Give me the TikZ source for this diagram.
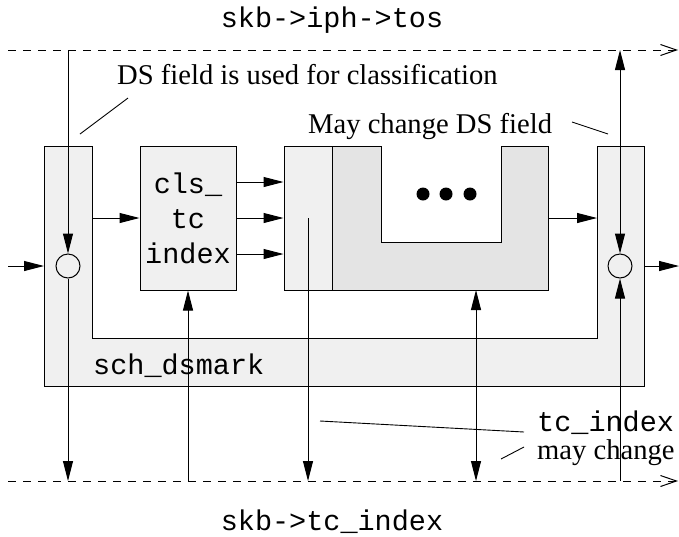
\documentclass[tikz,border=0pt]{standalone}
\usepackage{fontspec}
\setmainfont{Liberation Serif}
\setmonofont{Liberation Mono}
\usepackage{tikz}
\usetikzlibrary{arrows.meta}
\definecolor{boxgray}{RGB}{240,240,240}
\definecolor{stagegray}{RGB}{228,228,228}

\begin{document}
\begin{tikzpicture}[
    x=1pt, y=-1pt,
    box/.style={rectangle, draw=black, fill=boxgray, line width=1pt, inner sep=0pt, align=center, font=\ttfamily\fontsize{28.5}{35}\selectfont},
    frame/.style={draw=black, fill=boxgray, line width=1pt},
    stage/.style={draw=black, fill=stagegray, line width=1pt},
    port/.style={circle, draw=black, fill=boxgray, line width=1pt, minimum size=24pt, inner sep=0pt},
    line/.style={draw, line width=1pt, -{Triangle[length=20pt, width=10pt]}},
    both/.style={draw, line width=1pt, {Triangle[length=20pt, width=10pt]}-{Triangle[length=20pt, width=10pt]}},
    bus/.style={draw, line width=1pt, dash pattern=on 8pt off 7pt, -{Straight Barb[length=16pt, width=11pt]}},
    leader/.style={draw, line width=0.9pt},
    label/.style={font=\fontsize{28.6}{34}\selectfont, inner sep=0pt, anchor=base west},
    code/.style={font=\ttfamily\fontsize{28.5}{34}\selectfont, inner sep=0pt, anchor=base west}
]
\useasboundingbox (0,0) rectangle (679,536);

% skb fields
\coordinate (tosL) at (8,50);
\coordinate (tosR) at (678,50);
\coordinate (idxL) at (8,481);
\coordinate (idxR) at (678,481);
\draw[bus] (tosL) -- (tosR);
\draw[bus] (idxL) -- (idxR);
\node[code, anchor=base] (tos) at (332,27) {skb->iph->tos};
\node[code, anchor=base] (tcidx) at (332,530) {skb->tc\_index};

% sch_dsmark frame
\draw[frame] (44,146) -- (92,146) -- (92,338) -- (597,338) -- (597,146) -- (644,146) -- (644,386) -- (44,386) -- cycle;
\node[code] (dsmark) at (93,374) {sch\_dsmark};

% inner stages
\node[box, minimum width=96pt, minimum height=144pt] (cls) at (188,218) {cls\_\\tc\\index};
\node[box, minimum width=48pt, minimum height=144pt] (mark) at (308,218) {};
\draw[stage] (332,146) -- (381,146) -- (381,242) -- (501,242) -- (501,146) -- (548,146) -- (548,290) -- (332,290) -- cycle;
\foreach \x in {423,446,470}
    \fill (\x,194) circle (6.5pt);

\node[port] (inport) at (68,266) {};
\node[port] (outport) at (620,266) {};

% connectors
\coordinate (in) at (8,266);
\coordinate (inedge) at (44,266);
\coordinate (leftout) at (92,218);
\coordinate (stageout) at (548,218);
\coordinate (rightin) at (597,218);
\coordinate (stagefoot) at (476,290);
\coordinate (outedge) at (644,266);
\coordinate (out) at (679,266);
\coordinate (tos1) at (68,50);
\coordinate (tos2) at (620,50);
\coordinate (idx1) at (68,481);
\coordinate (idx2) at (188,481);
\coordinate (idx3) at (308,481);
\coordinate (idx4) at (476,481);
\coordinate (idx5) at (620,481);

\draw[line] (in) -- (inedge);
\draw[line] (tos1) -- (inport);
\draw[line] (inport) -- (idx1);
\draw[line] (leftout) -- (cls.west);
\foreach \y in {182,218,254}
    \draw[line] (cls.east |- 0,\y) -- (mark.west |- 0,\y);
\draw[line] (idx2) -- (cls.south);
\draw[line] (mark.center) -- (idx3);
\draw[both] (stagefoot) -- (idx4);
\draw[line] (stageout) -- (rightin);
\draw[both] (tos2) -- (outport);
\draw[line] (idx5) -- (outport);
\draw[line] (outedge) -- (out);

% notes
\node[label] (used) at (117,84) {DS field is used for classification};
\node[label] (may) at (308,133) {May change DS field};
\node[code] (tcnote) at (537,431) {tc\_index};
\node[label] (maynote) at (537,459) {may change};
\draw[leader] (128,98) coordinate (u1) -- (80,134) coordinate (u2);
\draw[leader] (572,122) coordinate (m1) -- (608,134) coordinate (m2);
\draw[leader] (524,432) coordinate (t1) -- (320,421) coordinate (t2);
\draw[leader] (524,447) coordinate (c1) -- (501,459) coordinate (c2);

\end{tikzpicture}
\end{document}
